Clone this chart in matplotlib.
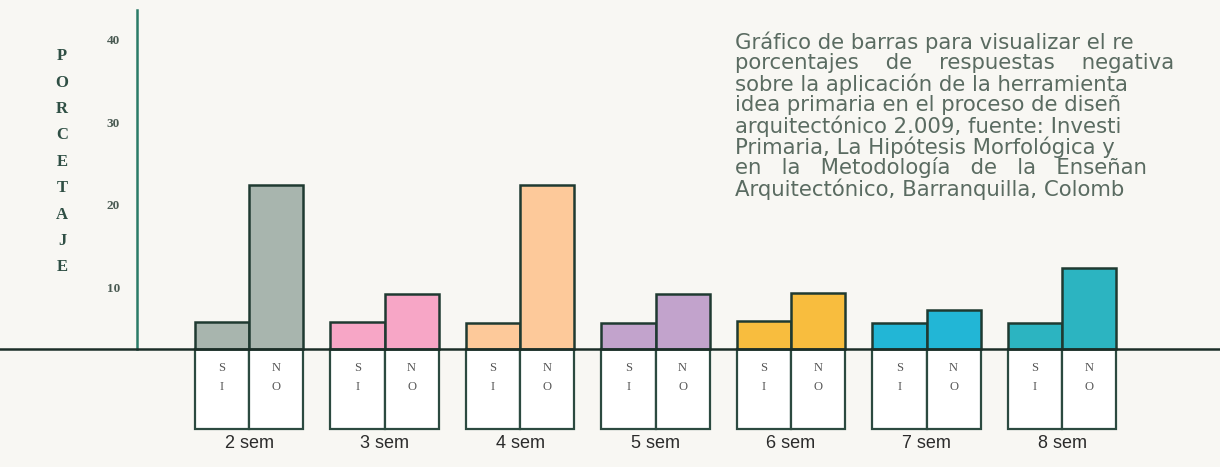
import matplotlib.pyplot as plt

semestres = ["2 sem", "3 sem", "4 sem", "5 sem", "6 sem", "7 sem", "8 sem"]
si = [6.0, 6.0, 5.9, 5.9, 6.1, 5.9, 5.9]
no = [22.6, 9.4, 22.6, 9.4, 9.5, 7.4, 12.5]
colores = ["#a8b5ae", "#f7a6c6", "#fdc99a", "#c2a3cc", "#f8bd3e", "#22b6d6", "#2cb4c1"]
ticks = [10, 20, 30, 40]
base = 2.7  # where the printed baseline sits on the printed scale

# caption as it shows on the scanned page (cut at the right edge)
texto = [
    "Gráfico de barras para visualizar el re",
    "porcentajes    de    respuestas    negativa",
    "sobre la aplicación de la herramienta",
    "idea primaria en el proceso de diseñ",
    "arquitectónico 2.009, fuente: Investi",
    "Primaria, La Hipótesis Morfológica y",
    "en   la   Metodología   de   la   Enseñan",
    "Arquitectónico, Barranquilla, Colomb",
]

fig = plt.figure(figsize=(12.2, 4.67), dpi=100)
fig.patch.set_facecolor("#f8f7f3")
ax = fig.add_axes([0, 0, 1, 1])
ax.set_facecolor("#f8f7f3")
ax.set_xlim(-1.838, 7.166)
ax.set_ylim(-11.6, 45.0)
ax.axis("off")

x = list(range(len(semestres)))
w = 0.4
edge = "#1f3a31"

# coloured bars above the baseline
for i in x:
    ax.bar(i - w / 2, si[i] - base, w, bottom=base, color=colores[i],
           edgecolor=edge, linewidth=1.8, zorder=3)
    ax.bar(i + w / 2, no[i] - base, w, bottom=base, color=colores[i],
           edgecolor=edge, linewidth=1.8, zorder=3)

# white label boxes below the baseline
box_h = 9.7
for i in x:
    for dx, lab in [(-w / 2, "SI"), (w / 2, "NO")]:
        ax.bar(i + dx, box_h, w, bottom=base - box_h, color="white",
               edgecolor="#2c4a40", linewidth=1.6, zorder=2)
        ax.text(i + dx, base - 2.3, lab[0], ha="center", va="center",
                family="Liberation Serif", fontsize=9, color="#555555")
        ax.text(i + dx, base - 4.6, lab[1], ha="center", va="center",
                family="Liberation Serif", fontsize=9, color="#555555")
    ax.text(i, base - 11.5, semestres[i], ha="center", va="center",
            family="Liberation Sans", fontsize=13, color="#2b2b2b")

# baseline across the page and the y axis
ax.axhline(base, color="#1c2e28", linewidth=1.8, zorder=4)
ax.plot([-0.827, -0.827], [base, 43.8], color="#2a7a66", linewidth=1.8)
for t in ticks:
    ax.text(-1.0, t, str(t), ha="center", va="center", family="Liberation Serif",
            fontsize=9.5, fontweight="bold", color="#4a5a52")

# vertical axis title
for k, letra in enumerate("PORCETAJE"):
    ax.text(-1.38, 38.2 - k * 3.2, letra, ha="center", va="center",
            family="Liberation Serif", fontsize=12, fontweight="bold",
            color="#2f4f44")

# caption at the top right
for k, linea in enumerate(texto):
    fig.text(735 / 1220, 1 - (42 + k * 21) / 467, linea, ha="left", va="center",
             family="DejaVu Sans", fontsize=15.3, color="#5a6b61")

fig.savefig("out.png", dpi=100, facecolor=fig.get_facecolor())
